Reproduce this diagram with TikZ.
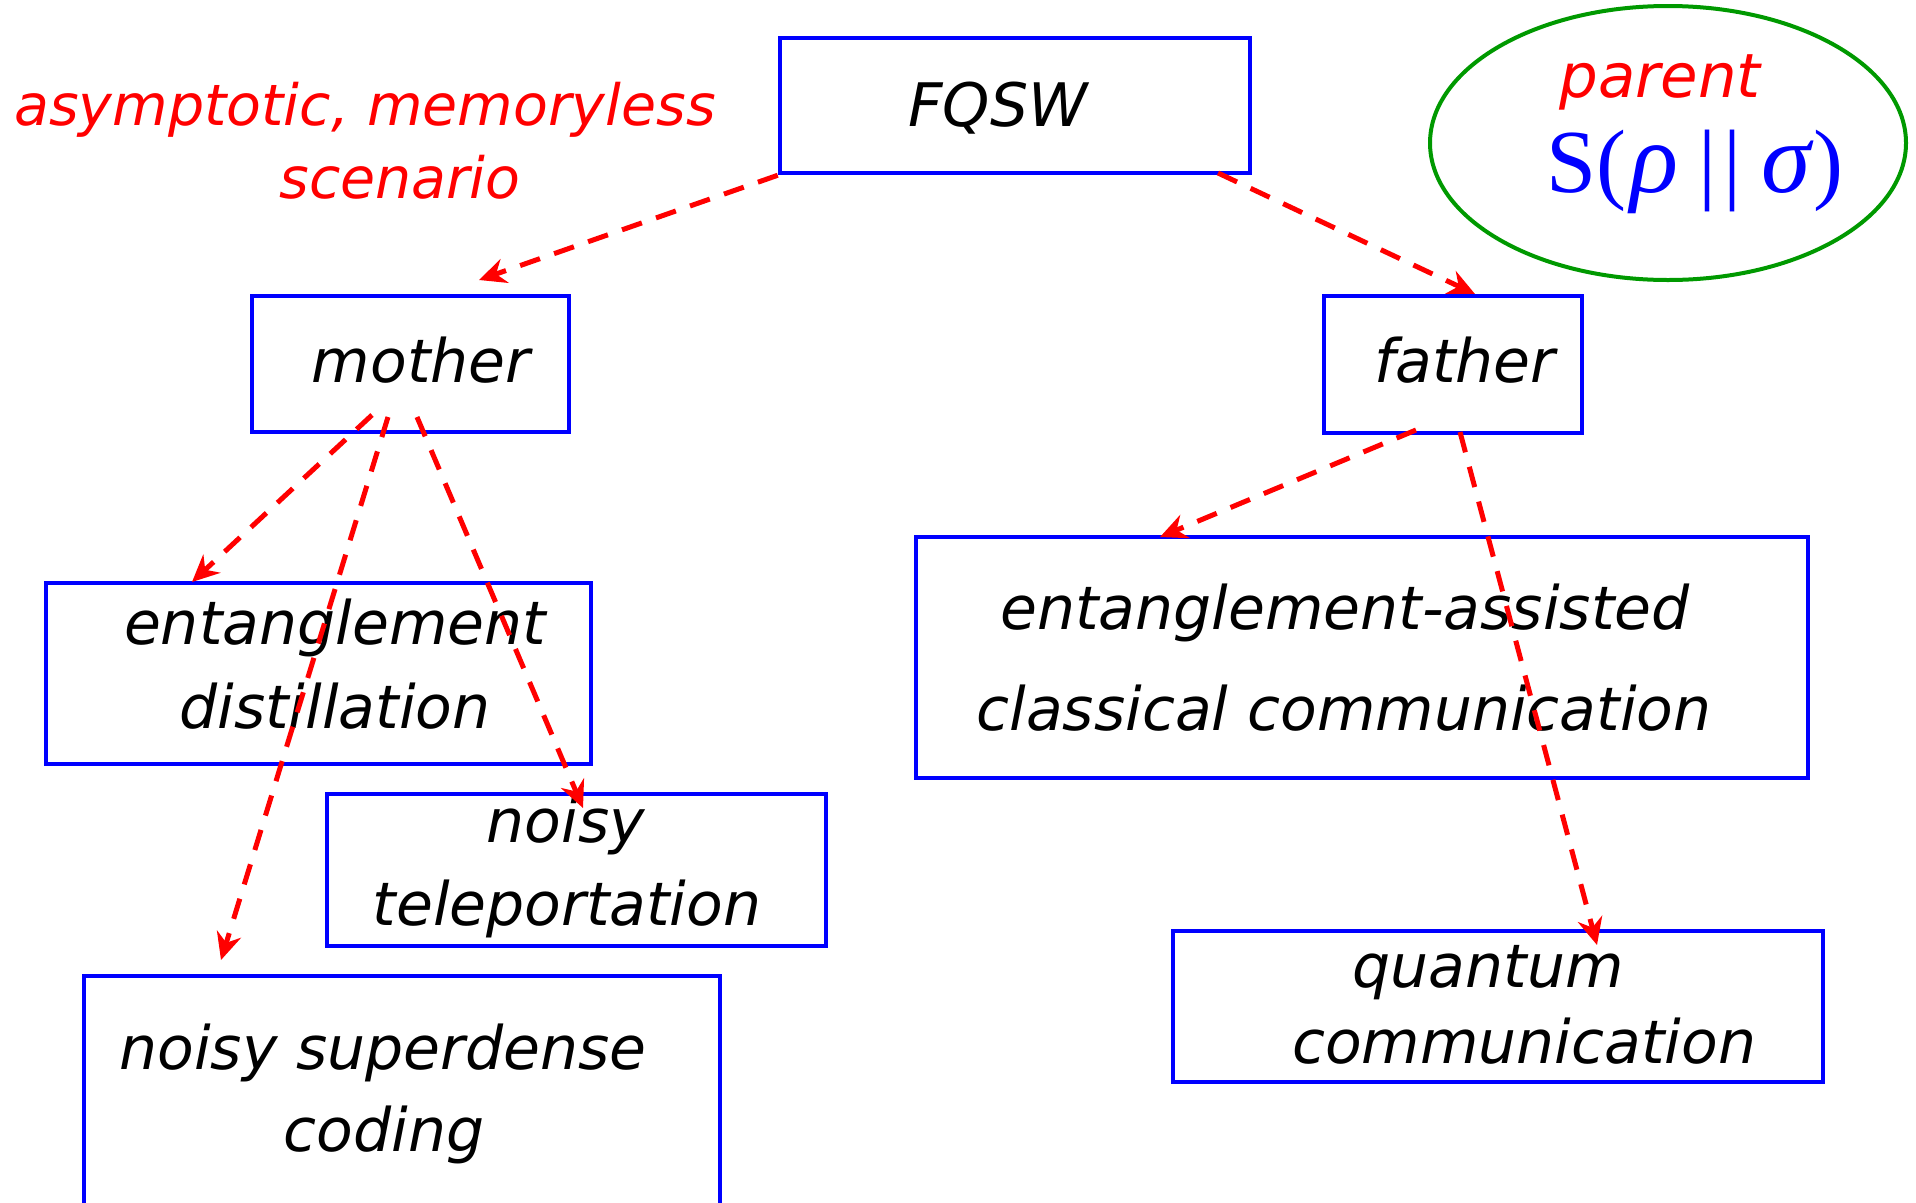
\documentclass[tikz,border=0pt]{standalone}
\usepackage{fontspec}
\setmainfont{DejaVu Sans}
\newfontfamily\timesfam{Liberation Serif}
\usetikzlibrary{arrows.meta,shapes.geometric}
\definecolor{boxblue}{RGB}{0,0,255}
\definecolor{arrred}{RGB}{255,0,0}
\definecolor{ovalgreen}{RGB}{0,153,0}

\begin{document}
\begin{tikzpicture}[x=1pt,y=-1pt,
  box/.style={draw=boxblue, line width=4.5pt, inner sep=0pt},
  lbl/.style={anchor=base, inner sep=0pt, font=\fontsize{60}{60}\selectfont\itshape},
  note/.style={anchor=base, inner sep=0pt, text=arrred, font=\fontsize{57}{57}\selectfont\itshape},
  link/.style={draw=arrred, line width=5pt, dash pattern=on 21pt off 15pt,
    -{Stealth[length=27pt,width=25pt,inset=9pt]}}
]
\useasboundingbox (0,0) rectangle (1916,1202);

% boxes
\node[box, minimum width=470pt, minimum height=135pt] (fqsw)   at (1015,105.5) {};
\node[box, minimum width=317pt, minimum height=136pt] (mother) at (410.5,364) {};
\node[box, minimum width=258pt, minimum height=137pt] (father) at (1453,364.5) {};
\node[box, minimum width=545pt, minimum height=181pt] (distil) at (318.5,673.5) {};
\node[box, minimum width=499pt, minimum height=152pt] (telep)  at (576.5,870) {};
\node[box, minimum width=636pt, minimum height=239pt] (sdc)    at (402,1095.5) {};
\node[box, minimum width=892pt, minimum height=241pt] (eacc)   at (1362,657.5) {};
\node[box, minimum width=650pt, minimum height=151pt] (qcomm)  at (1498,1006.5) {};

% parent oval
\node[ellipse, draw=ovalgreen, line width=4pt, minimum width=476pt, minimum height=274pt,
  inner sep=0pt] (parent) at (1668,143) {};

% box texts
\node[lbl] (t-fqsw)   at (998,126)  {FQSW};
\node[lbl] (t-mother) at (421,382)  {mother};
\node[lbl] (t-father) at (1465,382) {father};
\node[lbl] (t-dis1)   at (335,644)  {entanglement};
\node[lbl] (t-dis2)   at (335,728)  {distillation};
\node[lbl] (t-tel1)   at (566,842)  {noisy};
\node[lbl] (t-tel2)   at (567,925)  {teleportation};
\node[lbl] (t-sdc1)   at (383,1069) {noisy superdense};
\node[lbl] (t-sdc2)   at (384,1151) {coding};
\node[lbl] (t-ea1)    at (1345,629) {entanglement-assisted};
\node[lbl] (t-ea2)    at (1344,730) {classical communication};
\node[lbl] (t-qc1)    at (1488,987) {quantum};
\node[lbl] (t-qc2)    at (1524,1063) {communication};

% red notes
\node[note] (n-asym) at (365,125) {asymptotic, memoryless};
\node[note] (n-scen) at (400,198) {scenario};
\node[note, font=\fontsize{61}{61}\selectfont\itshape] (n-par) at (1660,97) {parent};
\node[anchor=base, inner sep=0pt, text=boxblue, font=\fontsize{90}{90}\selectfont\timesfam]
  (n-rel) at (1695,192)
  {S(\kern0.05em{\fontsize{100}{100}\selectfont\textit{ρ}}\kern0.22em|\kern0.08em|\kern0.22em{\fontsize{100}{100}\selectfont\textit{σ}})};

% connector end points
\coordinate (fq-b)  at (1218,173);
\coordinate (mo-in) at (479,280);
\coordinate (fa-in) at (1475,294);
\coordinate (mo-a)  at (372,415);
\coordinate (mo-b)  at (388,417);
\coordinate (mo-c)  at (417,417);
\coordinate (di-in) at (192,582);
\coordinate (sd-in) at (221,960);
\coordinate (te-in) at (583,808);
\coordinate (fa-a)  at (1416,430);
\coordinate (fa-b)  at (1460,432);
\coordinate (ea-in) at (1160,537);
\coordinate (qc-in) at (1597,945);

% connectors
\draw[link] (fqsw.south west) -- (mo-in);
\draw[link] (fq-b) -- (fa-in);
\draw[link] (mo-a) -- (di-in);
\draw[link] (mo-b) -- (sd-in);
\draw[link] (mo-c) -- (te-in);
\draw[link] (fa-a) -- (ea-in);
\draw[link] (fa-b) -- (qc-in);
\end{tikzpicture}
\end{document}
